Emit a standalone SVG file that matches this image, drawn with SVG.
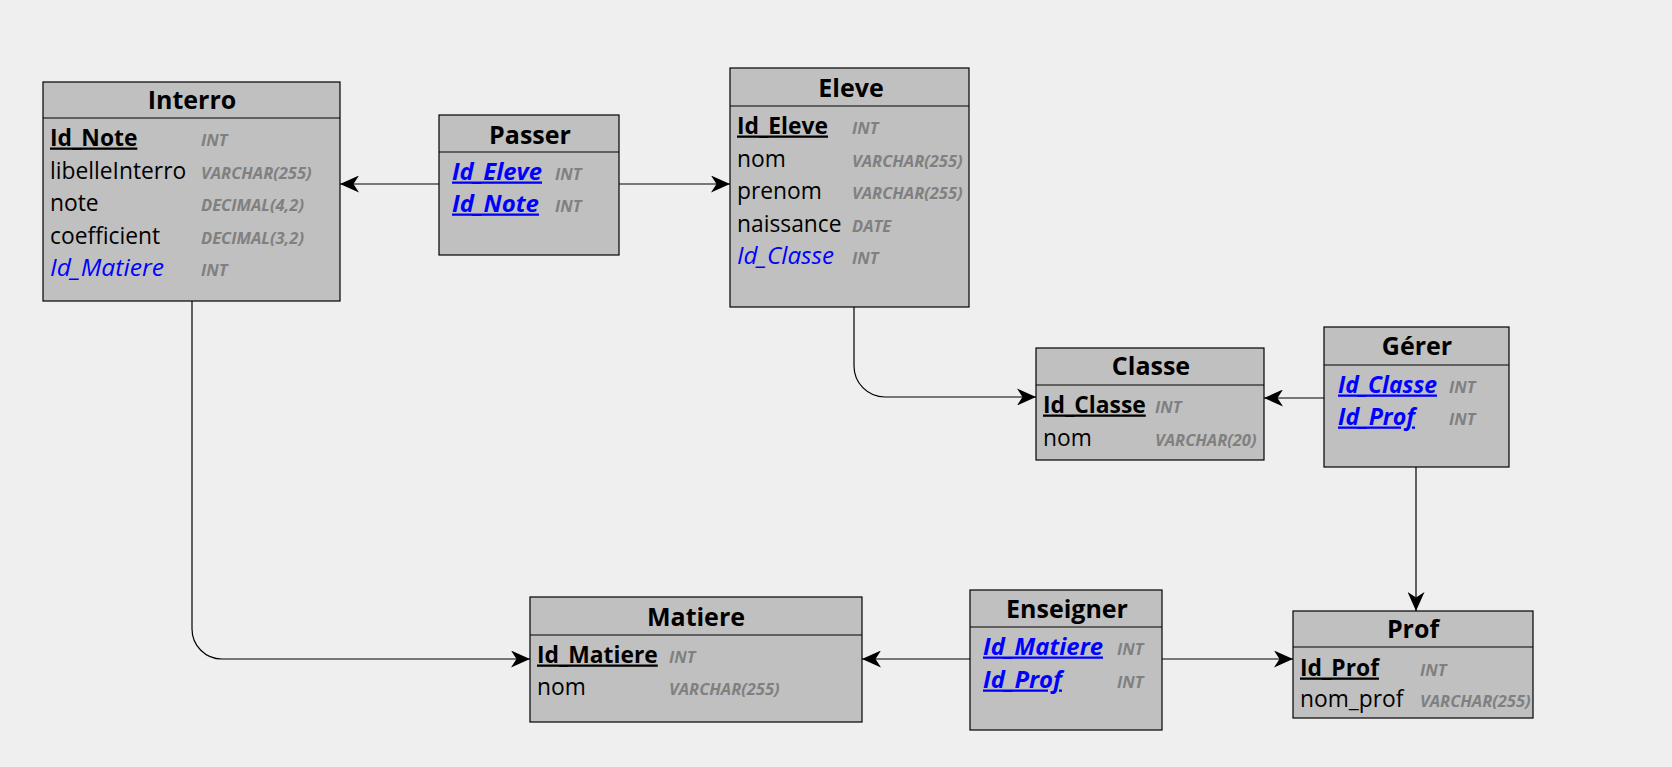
<svg xmlns="http://www.w3.org/2000/svg" width="1672" height="767" viewBox="0 0 1672 767">
<defs>
<style>
.box{fill:#c0c0c0;stroke:#000;stroke-width:1.2}
.sep{stroke:#000;stroke-width:1.2}
.title{font-family:"Open Sans","Noto Sans",sans-serif;font-weight:bold;font-size:25px;fill:#000;text-anchor:middle}
.col{font-family:"Open Sans","Noto Sans",sans-serif;font-size:22.8px;fill:#000;transform:translateY(1.5px)}
.pk{font-weight:bold;text-decoration:underline}
.fk{font-style:italic;fill:#0000ff}
.pfk{font-style:italic;font-weight:bold;fill:#0000ff;text-decoration:underline}
.type{font-family:"Open Sans","Noto Sans",sans-serif;font-size:16.5px;font-style:italic;font-weight:bold;fill:#808080;transform:translateY(1.5px)}
.conn{fill:none;stroke:#000;stroke-width:1.2}
</style>
<marker id="arr" markerUnits="userSpaceOnUse" viewBox="0 0 19 17" markerWidth="19" markerHeight="17" refX="19" refY="8.5" orient="auto">
<path d="M0,0 L19,8.5 L0,17 L5.5,8.5 Z" fill="#000"/>
</marker>
</defs>
<rect width="1672" height="767" fill="#efefef"/>

<g id="connectors">
<path class="conn" d="M439,184 H340" marker-end="url(#arr)"/>
<path class="conn" d="M619,184 H730" marker-end="url(#arr)"/>
<path class="conn" d="M854,307 V366 A31,31 0 0 0 885,397 H1036" marker-end="url(#arr)"/>
<path class="conn" d="M1324,398 H1264" marker-end="url(#arr)"/>
<path class="conn" d="M1416,467 V611" marker-end="url(#arr)"/>
<path class="conn" d="M192,301 V629 A30,30 0 0 0 222,659 H530" marker-end="url(#arr)"/>
<path class="conn" d="M970,659 H862" marker-end="url(#arr)"/>
<path class="conn" d="M1162,659 H1293" marker-end="url(#arr)"/>
</g>

<g id="Interro">
<rect class="box" x="43" y="82" width="297" height="219"/>
<line class="sep" x1="43" y1="118" x2="340" y2="118"/>
<text class="title" x="192" y="109">Interro</text>
<text class="col pk" x="50" y="144">Id_Note</text><text class="type" x="201" y="144">INT</text>
<text class="col" x="50" y="177">libelleInterro</text><text class="type" x="201" y="177">VARCHAR(255)</text>
<text class="col" x="50" y="209">note</text><text class="type" x="201" y="209">DECIMAL(4,2)</text>
<text class="col" x="50" y="242">coefficient</text><text class="type" x="201" y="242">DECIMAL(3,2)</text>
<text class="col fk" x="50" y="274" textLength="114" lengthAdjust="spacingAndGlyphs">Id_Matiere</text><text class="type" x="201" y="274">INT</text>
</g>

<g id="Passer">
<rect class="box" x="439" y="115" width="180" height="140"/>
<line class="sep" x1="439" y1="152" x2="619" y2="152"/>
<text class="title" x="530" y="144">Passer</text>
<text class="col pfk" x="452" y="178" textLength="90" lengthAdjust="spacingAndGlyphs">Id_Eleve</text><text class="type" x="555" y="178">INT</text>
<text class="col pfk" x="452" y="210" textLength="87" lengthAdjust="spacingAndGlyphs">Id_Note</text><text class="type" x="555" y="210">INT</text>
</g>

<g id="Eleve">
<rect class="box" x="730" y="68" width="239" height="239"/>
<line class="sep" x1="730" y1="106" x2="969" y2="106"/>
<text class="title" x="851" y="97">Eleve</text>
<text class="col pk" x="737" y="132">Id_Eleve</text><text class="type" x="852" y="132">INT</text>
<text class="col" x="737" y="165">nom</text><text class="type" x="852" y="165">VARCHAR(255)</text>
<text class="col" x="737" y="197">prenom</text><text class="type" x="852" y="197">VARCHAR(255)</text>
<text class="col" x="737" y="230">naissance</text><text class="type" x="852" y="230">DATE</text>
<text class="col fk" x="737" y="262" textLength="97" lengthAdjust="spacingAndGlyphs">Id_Classe</text><text class="type" x="852" y="262">INT</text>
</g>

<g id="Classe">
<rect class="box" x="1036" y="348" width="228" height="112"/>
<line class="sep" x1="1036" y1="385" x2="1264" y2="385"/>
<text class="title" x="1151" y="375">Classe</text>
<text class="col pk" x="1043" y="411">Id_Classe</text><text class="type" x="1155" y="411">INT</text>
<text class="col" x="1043" y="444">nom</text><text class="type" x="1155" y="444">VARCHAR(20)</text>
</g>

<g id="Gerer">
<rect class="box" x="1324" y="327" width="185" height="140"/>
<line class="sep" x1="1324" y1="365" x2="1509" y2="365"/>
<text class="title" x="1417" y="355">Gérer</text>
<text class="col pfk" x="1338" y="391" textLength="99" lengthAdjust="spacingAndGlyphs">Id_Classe</text><text class="type" x="1449" y="391">INT</text>
<text class="col pfk" x="1338" y="423" textLength="77" lengthAdjust="spacingAndGlyphs">Id_Prof</text><text class="type" x="1449" y="423">INT</text>
</g>

<g id="Matiere">
<rect class="box" x="530" y="597" width="332" height="125"/>
<line class="sep" x1="530" y1="635" x2="862" y2="635"/>
<text class="title" x="696" y="626">Matiere</text>
<text class="col pk" x="537" y="661">Id_Matiere</text><text class="type" x="669" y="661">INT</text>
<text class="col" x="537" y="693">nom</text><text class="type" x="669" y="693">VARCHAR(255)</text>
</g>

<g id="Enseigner">
<rect class="box" x="970" y="590" width="192" height="140"/>
<line class="sep" x1="970" y1="627" x2="1162" y2="627"/>
<text class="title" x="1067" y="618">Enseigner</text>
<text class="col pfk" x="983" y="653" textLength="120" lengthAdjust="spacingAndGlyphs">Id_Matiere</text><text class="type" x="1117" y="653">INT</text>
<text class="col pfk" x="983" y="686" textLength="79" lengthAdjust="spacingAndGlyphs">Id_Prof</text><text class="type" x="1117" y="686">INT</text>
</g>

<g id="Prof">
<rect class="box" x="1293" y="611" width="240" height="107"/>
<line class="sep" x1="1293" y1="647" x2="1533" y2="647"/>
<text class="title" x="1413" y="638">Prof</text>
<text class="col pk" x="1300" y="674">Id_Prof</text><text class="type" x="1420" y="674">INT</text>
<text class="col" x="1300" y="705">nom_prof</text><text class="type" x="1420" y="705">VARCHAR(255)</text>
</g>
</svg>
